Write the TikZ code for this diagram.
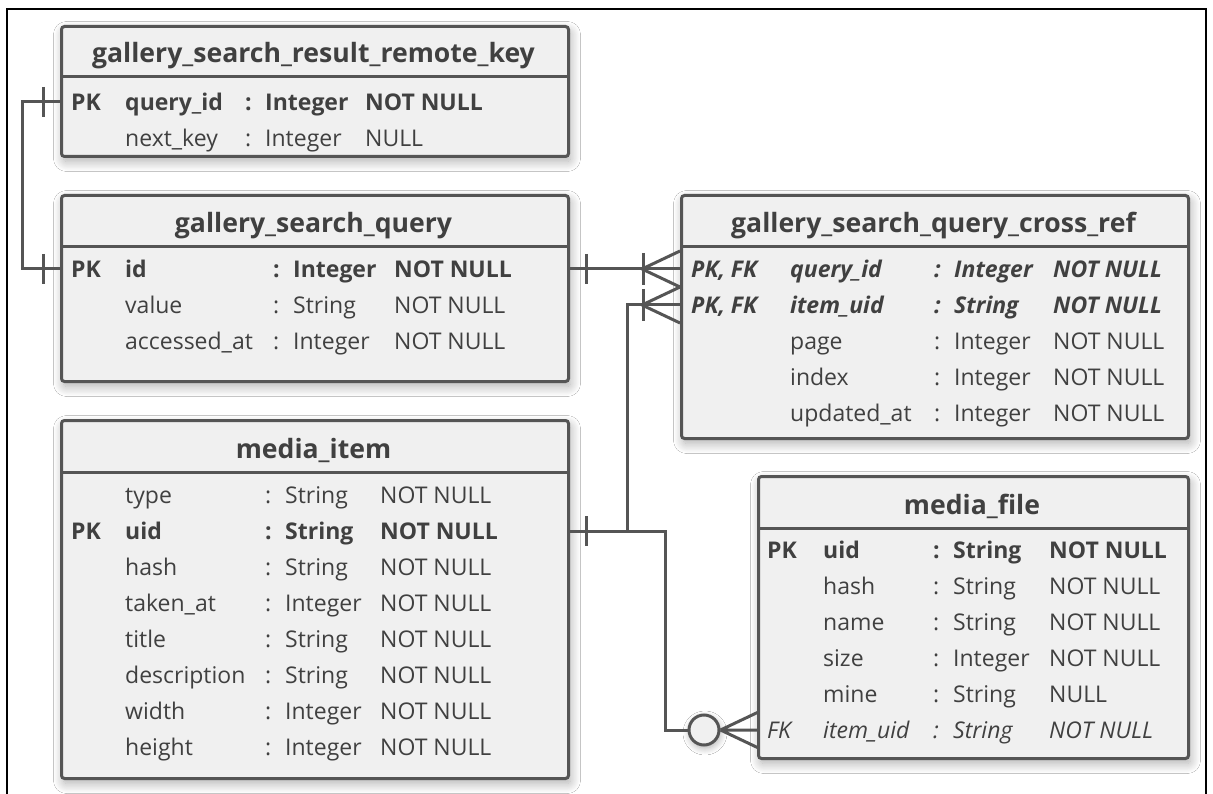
\documentclass[tikz,border=0pt]{standalone}
\usepackage{fontspec}
\setmainfont{Open Sans}
\usetikzlibrary{calc,shadows.blur}

\definecolor{erline}{HTML}{555555}
\definecolor{erfill}{HTML}{F0F0F0}
\definecolor{ertext}{HTML}{404040}

\tikzset{
  tablebox/.style={draw=erline, line width=3pt, fill=erfill, rounded corners=3pt,
    inner sep=0pt,
    blur shadow={shadow xshift=2pt, shadow yshift=-5pt, shadow blur radius=10pt,
                 shadow opacity=32, shadow blur steps=14}},
  tablerule/.style={draw=erline, line width=3pt},
  titletext/.style={inner sep=0pt, anchor=base, text=ertext,
    font=\bfseries\fontsize{26.6}{31}\selectfont},
  cell/.style={inner sep=0pt, anchor=west, text height=16.5pt, text depth=0pt,
    text=ertext, font=\fontsize{23}{27}\selectfont},
  keyrow/.style={font=\bfseries\fontsize{23}{27}\selectfont},
  keyfk/.style={font=\bfseries\itshape\fontsize{23}{27}\selectfont},
  fkrow/.style={font=\itshape\fontsize{23}{27}\selectfont},
  conn/.style={draw=erline, line width=3pt},
  frame/.style={draw=black, line width=2pt},
  optcircle/.style={circle, draw=erline, line width=3pt, fill=erfill,
    minimum size=30pt, inner sep=0pt,
    blur shadow={shadow xshift=1pt, shadow yshift=-3pt, shadow blur radius=7pt,
                 shadow opacity=32, shadow blur steps=10}},
}

% table body with its header rule and title
\newcommand\ertable[7]{%
  \pgfmathsetmacro\tw{#4-#2}\pgfmathsetmacro\th{#5-#3}%
  \node[tablebox, minimum width=\tw pt, minimum height=\th pt, anchor=north west]
    (#1) at (#2,#3) {};
  \draw[tablerule] (#1.west |- 0,#6) -- (#1.east |- 0,#6);
  \pgfmathsetmacro\tcx{(#2+#4)/2}\pgfmathsetmacro\tcy{#6-14}%
  \node[titletext] (#1-title) at (\tcx,\tcy) {#7};
}
% column positions of the current table
\newcommand\ercols[4]{\def\cN{#1}\def\cC{#2}\def\cT{#3}\def\cU{#4}}
% one attribute row: #1 table, #2 row, #3 y, #4 name, #5 type, #6 null, #7 style
\newcommand\errow[7]{%
  \node[cell,#7] (#1-#2-n) at (\cN,#3) {#4};
  \node[cell,#7] (#1-#2-c) at (\cC,#3) {:};
  \node[cell,#7] (#1-#2-t) at (\cT,#3) {#5};
  \node[cell,#7] (#1-#2-u) at (\cU,#3) {#6};
}
% key marker in front of a row: #1 table, #2 row, #3 x, #4 y, #5 style, #6 text
\newcommand\erkeytext[6]{\node[cell,#5] (#1-#2-k) at (#3,#4) {#6};}

% bar plus crow's foot entering a table from the left at coordinate #1
\newcommand\crowin[1]{%
  \draw[conn] ($(#1)+(-38,0)$) -- ++(38,-18)
              ($(#1)+(-38,0)$) -- ++(38,18);
  \draw[conn] ($(#1)+(-37,-16)$) -- ++(0,32);
}

\begin{document}
\begin{tikzpicture}[x=1pt, y=-1pt]
\useasboundingbox (0,0) rectangle (1213,794);
\fill[white] (0,0) rectangle (1213,794);

% outer frame
\draw[frame] (7,800) -- (7,9.5) -- (1206,9.5) -- (1206,800);

% ---------- tables ----------
\ertable{gsrrk}{60}{25}{567}{155}{77}{gallery\_search\_result\_remote\_key}
\ercols{125}{245}{265}{365}
\erkeytext{gsrrk}{1}{71}{102}{keyrow}{PK}
\errow{gsrrk}{1}{102}{query\_id}{Integer}{NOT NULL}{keyrow}
\errow{gsrrk}{2}{138}{next\_key}{Integer}{NULL}{}

\ertable{gsq}{60}{194}{567}{380}{247}{gallery\_search\_query}
\ercols{125}{273}{293}{394}
\erkeytext{gsq}{1}{71}{269}{keyrow}{PK}
\errow{gsq}{1}{269}{id}{Integer}{NOT NULL}{keyrow}
\errow{gsq}{2}{305}{value}{String}{NOT NULL}{}
\errow{gsq}{3}{341}{accessed\_at}{Integer}{NOT NULL}{}

\ertable{xref}{680}{194}{1187}{437}{247}{gallery\_search\_query\_cross\_ref}
\ercols{790}{934}{954}{1053}
\erkeytext{xref}{1}{691}{269}{keyfk}{PK, FK}
\errow{xref}{1}{269}{query\_id}{Integer}{NOT NULL}{keyfk}
\erkeytext{xref}{2}{691}{305}{keyfk}{PK, FK}
\errow{xref}{2}{305}{item\_uid}{String}{NOT NULL}{keyfk}
\errow{xref}{3}{341}{page}{Integer}{NOT NULL}{}
\errow{xref}{4}{377}{index}{Integer}{NOT NULL}{}
\errow{xref}{5}{413}{updated\_at}{Integer}{NOT NULL}{}

\ertable{mi}{60}{419}{567}{777}{472}{media\_item}
\ercols{125}{265}{285}{380}
\errow{mi}{1}{495}{type}{String}{NOT NULL}{}
\erkeytext{mi}{2}{71}{531}{keyrow}{PK}
\errow{mi}{2}{531}{uid}{String}{NOT NULL}{keyrow}
\errow{mi}{3}{567}{hash}{String}{NOT NULL}{}
\errow{mi}{4}{603}{taken\_at}{Integer}{NOT NULL}{}
\errow{mi}{5}{639}{title}{String}{NOT NULL}{}
\errow{mi}{6}{675}{description}{String}{NOT NULL}{}
\errow{mi}{7}{711}{width}{Integer}{NOT NULL}{}
\errow{mi}{8}{747}{height}{Integer}{NOT NULL}{}

\ertable{mf}{757}{475}{1187}{757}{528}{media\_file}
\ercols{823}{933}{953}{1049}
\erkeytext{mf}{1}{767}{550}{keyrow}{PK}
\errow{mf}{1}{550}{uid}{String}{NOT NULL}{keyrow}
\errow{mf}{2}{586}{hash}{String}{NOT NULL}{}
\errow{mf}{3}{622}{name}{String}{NOT NULL}{}
\errow{mf}{4}{658}{size}{Integer}{NOT NULL}{}
\errow{mf}{5}{694}{mine}{String}{NULL}{}
\erkeytext{mf}{6}{767}{730}{fkrow}{FK}
\errow{mf}{6}{730}{item\_uid}{String}{NOT NULL}{fkrow}

% ---------- relationships ----------
% remote key <-> search query (one to one)
\coordinate (rk) at (gsrrk.west |- gsrrk-1-n);
\coordinate (sq) at (gsq.west |- gsq-1-n);
\draw[conn] (rk) -- ++(-38,0) |- (sq);
\draw[conn] (rk) ++(-17,-15) -- ++(0,30);
\draw[conn] (sq) ++(-17,-15) -- ++(0,30);

% search query -> cross ref (one to many)
\coordinate (sqo) at (gsq.east |- gsq-1-n);
\coordinate (xq) at (xref.west |- xref-1-n);
\draw[conn] (sqo) -- (xq);
\draw[conn] (sqo) ++(16,-15) -- ++(0,30);
\crowin{xq}

% media item -> cross ref (one to many)
\coordinate (miu) at (mi.east |- mi-2-n);
\coordinate (xi) at (xref.west |- xref-2-n);
\path (miu) ++(57,0) coordinate (jn);
\draw[conn] (miu) -- (jn) |- (xi);
\draw[conn] (miu) ++(16,-15) -- ++(0,30);
\crowin{xi}

% media item -> media file (zero or many)
\coordinate (mfi) at (mf.west |- mf-6-n);
\node[optcircle] (zc) at ($(mfi)+(-53,0)$) {};
\draw[conn] (jn) -- ++(38,0) |- (zc.west);
\draw[conn] (zc.east) -- ++(38,-18) (zc.east) -- (mfi) (zc.east) -- ++(38,18);
\end{tikzpicture}
\end{document}
